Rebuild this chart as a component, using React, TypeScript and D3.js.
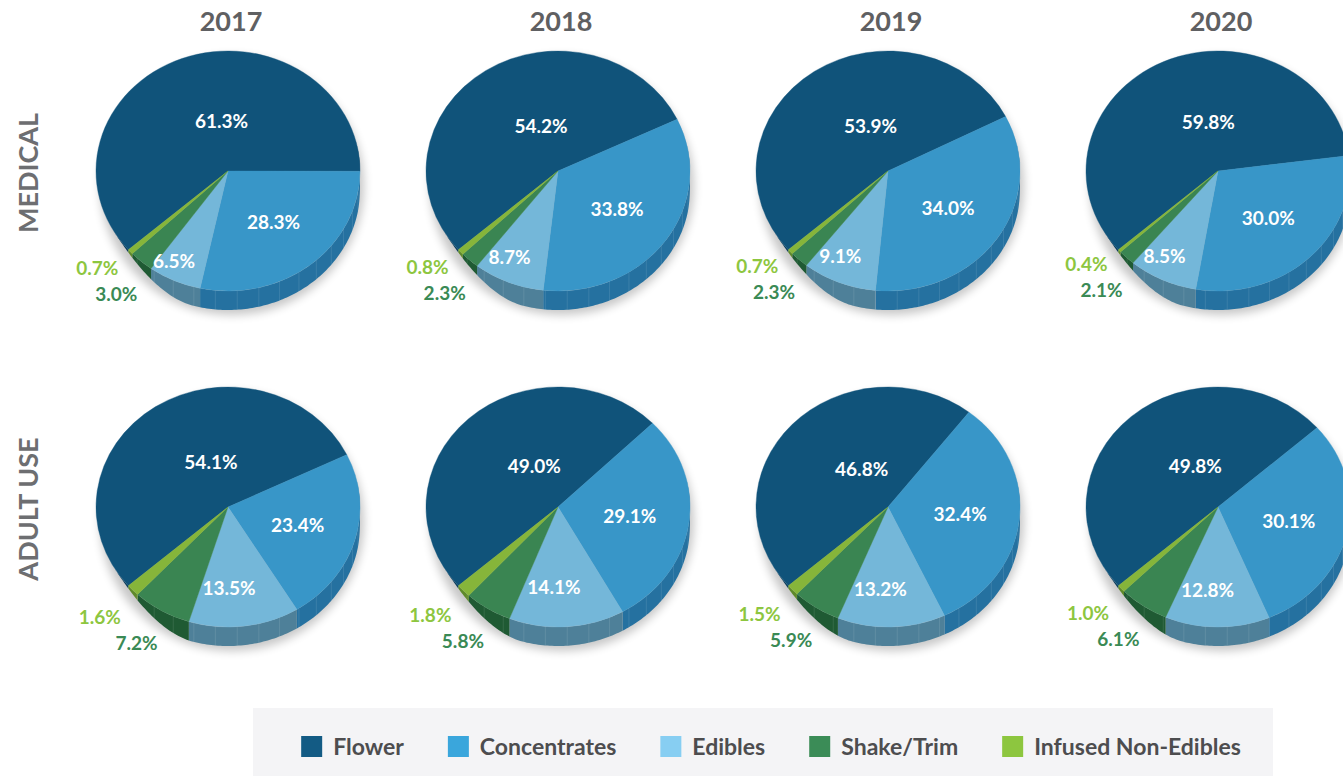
import React from "react";
import * as d3 from "d3";

// data
const years = ["2017", "2018", "2019", "2020"];
const rowLabels = ["MEDICAL", "ADULT USE"];
const categories = ["Flower", "Concentrates", "Edibles", "Shake/Trim", "Infused Non-Edibles"];

const medicalShares = [
  [61.3, 28.3, 6.5, 3.0, 0.7],
  [54.2, 33.8, 8.7, 2.3, 0.8],
  [53.9, 34.0, 9.1, 2.3, 0.7],
  [59.8, 30.0, 8.5, 2.1, 0.4],
];
const adultUseShares = [
  [54.1, 23.4, 13.5, 7.2, 1.6],
  [49.0, 29.1, 14.1, 5.8, 1.8],
  [46.8, 32.4, 13.2, 5.9, 1.5],
  [49.8, 30.1, 12.8, 6.1, 1.0],
];
const rows = [medicalShares, adultUseShares];

const topColors = ["#10537a", "#3896c8", "#74b7d9", "#3a8552", "#86b53a"];
const sideColors = ["#0c3f5e", "#2571a0", "#4e8099", "#1f5a33", "#5f8a2a"];
const legendColors = ["#135b84", "#3aa6dc", "#87cef2", "#3b8c57", "#8dc63f"];
const outsideLabelColors = ["", "", "", "#3a8a55", "#8dc63f"];

const W = 1343;
const H = 776;
const RX = 132;
const RY = 120;
const DEPTH = 19;
const START = (229 * Math.PI) / 180;
const FONT = "Lato, 'Noto Sans', sans-serif";

const xScale = d3.scalePoint<string>().domain(years).range([228, 1218]);
const yScale = d3.scalePoint<string>().domain(rowLabels).range([171, 507]);

const pie = d3
  .pie<number>()
  .sort(null)
  .value((d) => d)
  .startAngle(START)
  .endAngle(START + 2 * Math.PI);

const arc = d3.arc<d3.PieArcDatum<number>>().innerRadius(0).outerRadius(RX);

const ease = (t: number) => t * t * (3 - 2 * t);
const toDeg = (a: number) => ((((a * 180) / Math.PI) % 360) + 360) % 360;

function depthAt(a: number) {
  const deg = toDeg(a);
  if (deg < 75 || deg > 240) return 0;
  if (deg < 100) return DEPTH * ease((deg - 75) / 25);
  if (deg > 195) return DEPTH * ease((240 - deg) / 45);
  return DEPTH;
}

const px = (a: number, k = 1) => RX * k * Math.sin(a);
const py = (a: number, k = 1) => -RY * k * Math.cos(a);

// visible front wall of a slice
function sidePath(a0: number, a1: number) {
  const lo = (75 * Math.PI) / 180;
  const hi = (240 * Math.PI) / 180;
  const parts: string[] = [];
  [0, 2 * Math.PI].forEach((off) => {
    const s = Math.max(a0, lo + off);
    const e = Math.min(a1, hi + off);
    if (e <= s) return;
    const n = Math.max(4, Math.ceil(((e - s) * 180) / Math.PI));
    const angles = d3.range(n + 1).map((i) => s + ((e - s) * i) / n);
    const top = angles.map((a) => [px(a), py(a)] as [number, number]);
    const bottom = angles
      .slice()
      .reverse()
      .map((a) => [px(a), py(a) + depthAt(a)] as [number, number]);
    parts.push(d3.line()([...top, ...bottom]) + "Z");
  });
  return parts.join("");
}

const facetAngles = d3.range(100, 232, 9.5).map((d) => (d * Math.PI) / 180);

function Pie3D({ values, cx, cy }: { values: number[]; cx: number; cy: number }) {
  const slices = pie(values);
  const total = d3.sum(values);
  const shakeMid = (slices[3].startAngle + slices[3].endAngle) / 2;
  const shakeY = py(shakeMid) + 33;
  return (
    <g transform={`translate(${cx},${cy})`}>
      <ellipse
        cx={4}
        cy={DEPTH / 2 + 5}
        rx={RX}
        ry={RY + DEPTH / 2}
        fill="#000"
        opacity={0.22}
        filter="url(#pieShadow)"
      />
      {slices.map((s, i) => (
        <path key={"side" + i} d={sidePath(s.startAngle, s.endAngle)} fill={sideColors[i]} />
      ))}
      {facetAngles.map((a, i) => (
        <line
          key={"f" + i}
          x1={px(a)}
          y1={py(a)}
          x2={px(a)}
          y2={py(a) + depthAt(a)}
          stroke="#fff"
          strokeOpacity={0.13}
          strokeWidth={0.8}
        />
      ))}
      <g transform={`scale(1,${RY / RX})`}>
        {slices.map((s, i) => (
          <path
            key={"top" + i}
            d={arc(s) || ""}
            fill={topColors[i]}
            stroke={topColors[i]}
            strokeWidth={0.4}
          />
        ))}
      </g>
      {slices.map((s, i) => {
        const mid = (s.startAngle + s.endAngle) / 2;
        const label = s.data.toFixed(1) + "%";
        if (i < 3) {
          let x = 0;
          let y = 0;
          if (i === 0) {
            x = px(mid, 0.4) + 12;
            y = py(mid, 0.4) - 5;
          } else if (i === 1) {
            x = px(mid, 0.55);
            y = py(mid, 0.55);
          } else {
            const k = 0.95 - (2 * s.data) / total;
            x = px(mid, k) - 10;
            y = py(mid, k);
          }
          return (
            <text
              key={"l" + i}
              x={x}
              y={y}
              dy="0.35em"
              textAnchor="middle"
              fill="#fff"
              fontSize={19}
              fontWeight={700}
              fontFamily={FONT}
            >
              {label}
            </text>
          );
        }
        // small slices get their labels outside, stacked at the lower left
        const x = i === 3 ? px(mid) - 4 : px(mid) - 12;
        const y = i === 3 ? shakeY : shakeY - 26;
        return (
          <text
            key={"l" + i}
            x={x}
            y={y}
            dy="0.35em"
            textAnchor="end"
            fill={outsideLabelColors[i]}
            fontSize={19}
            fontWeight={700}
            fontFamily={FONT}
          >
            {label}
          </text>
        );
      })}
    </g>
  );
}

function measure(text: string, size: number) {
  const ctx = document.createElement("canvas").getContext("2d");
  if (!ctx) return text.length * size * 0.55;
  ctx.font = `700 ${size}px ${FONT}`;
  return ctx.measureText(text).width;
}

export default function App() {
  const legendFont = 23;
  const sw = 21;
  const gapText = 11;
  const gapItem = 44;
  const widths = categories.map((c) => sw + gapText + measure(c, legendFont));
  const total = d3.sum(widths) + gapItem * (categories.length - 1);
  const legendCenter = 771;
  let lx = legendCenter - total / 2;
  const legendX = widths.map((w) => {
    const x = lx;
    lx += w + gapItem;
    return x;
  });

  return (
    <svg
      width={W}
      height={H}
      style={{ position: "absolute", left: 0, top: 0, background: "#fff" }}
    >
      <defs>
        <filter id="pieShadow" x="-20%" y="-20%" width="140%" height="140%">
          <feGaussianBlur stdDeviation={5} />
        </filter>
      </defs>

      {years.map((y) => (
        <text
          key={y}
          x={xScale(y)! + 3}
          y={31}
          textAnchor="middle"
          fill="#5f6062"
          fontSize={27}
          fontWeight={700}
          fontFamily={FONT}
        >
          {y}
        </text>
      ))}

      {rowLabels.map((r) => (
        <text
          key={r}
          transform={`translate(29,${yScale(r)! + 2}) rotate(-90)`}
          dy="0.35em"
          textAnchor="middle"
          fill="#6d6e71"
          fontSize={27}
          fontWeight={700}
          fontFamily={FONT}
        >
          {r}
        </text>
      ))}

      {rows.map((row, ri) =>
        row.map((values, yi) => (
          <Pie3D
            key={ri + "-" + yi}
            values={values}
            cx={xScale(years[yi])!}
            cy={yScale(rowLabels[ri])!}
          />
        ))
      )}

      <rect x={253} y={708} width={1020} height={70} fill="#f4f4f6" />
      {categories.map((c, i) => (
        <g key={c} transform={`translate(${legendX[i]},736)`}>
          <rect width={sw} height={sw} fill={legendColors[i]} />
          <text
            x={sw + gapText}
            y={sw / 2}
            dy="0.36em"
            fill="#4d4d4f"
            fontSize={legendFont}
            fontWeight={700}
            fontFamily={FONT}
          >
            {c}
          </text>
        </g>
      ))}
    </svg>
  );
}
